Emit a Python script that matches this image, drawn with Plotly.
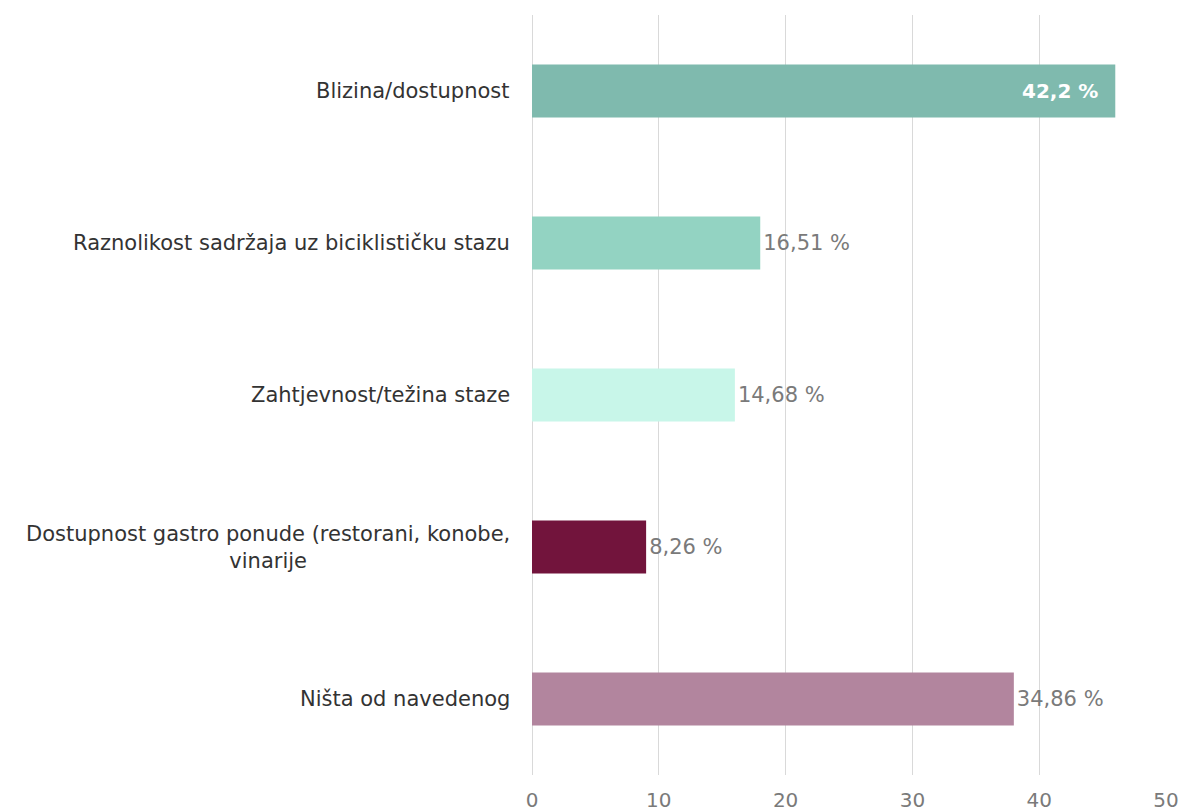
import plotly.graph_objects as go

categories = [
    "Blizina/dostupnost",
    "Raznolikost sadržaja uz biciklističku stazu",
    "Zahtjevnost/težina staze",
    "Dostupnost gastro ponude (restorani, konobe,<br>vinarije",
    "Ništa od navedenog",
]
counts = [46, 18, 16, 9, 38]
pct_labels = ["42,2 %\u00a0\u00a0", "16,51 %", "14,68 %", "8,26 %", "34,86 %"]
colors = ["#7fbaae", "#93d3c2", "#c8f6e9", "#72143c", "#b2859e"]
x_ticks = [0, 10, 20, 30, 40, 50]

FONT = "DejaVu Sans"

fig = go.Figure()
fig.add_trace(go.Bar(
    y=categories,
    x=counts,
    orientation="h",
    marker=dict(color=colors, line=dict(width=0)),
    width=0.35,
    text=pct_labels,
    textposition=["inside", "outside", "outside", "outside", "outside"],
    insidetextanchor="end",
    insidetextfont=dict(family=FONT, size=20, color="#ffffff", weight=600),
    outsidetextfont=dict(family=FONT, size=21, color="#7a7a7a"),
    cliponaxis=False,
    hoverinfo="skip",
))

for cat in categories:
    fig.add_annotation(
        x=0, xref="paper", y=cat, yref="y",
        text=cat, showarrow=False, xanchor="right", align="center",
        xshift=-20, font=dict(family=FONT, size=21, color="#333333"),
    )

fig.update_layout(
    width=1183, height=811,
    margin=dict(l=532, r=17, t=15, b=36),
    paper_bgcolor="white", plot_bgcolor="white",
    showlegend=False,
    uniformtext=dict(mode=False),
    xaxis=dict(
        range=[0, 50], tickvals=x_ticks, showgrid=True, gridcolor="#d9d9d9",
        gridwidth=1, zeroline=True, zerolinecolor="#d9d9d9", zerolinewidth=1,
        showline=False, automargin=False,
        tickfont=dict(family=FONT, size=20, color="#7a7a7a"),
        ticks="outside", ticklen=7, tickcolor="rgba(0,0,0,0)",
    ),
    yaxis=dict(
        categoryorder="array", categoryarray=categories[::-1],
        showticklabels=False, showgrid=False, automargin=False,
        zeroline=False, showline=False,
    ),
)

fig.write_html(
    "out.html",
    config={"displayModeBar": False},
    post_script="document.body.style.margin='0';document.body.style.overflow='hidden';",
)
